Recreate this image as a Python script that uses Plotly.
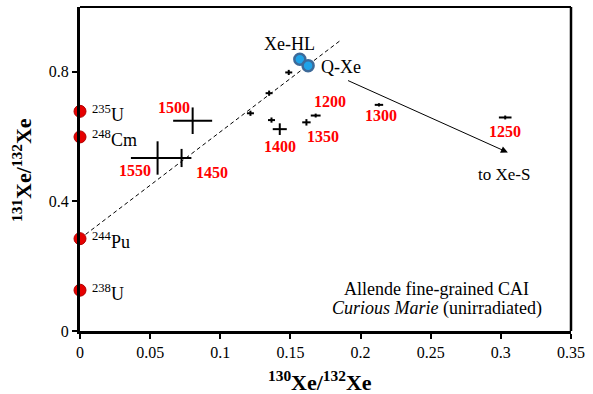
import plotly.graph_objects as go

# ---- data ----
# step-heating extractions (labelled by temperature, deg C)
step_labels = ["1500", "1550", "1450", "1400", "", "1350", "1200", "1300", "1250", "", "", ""]
step_x = [0.0803, 0.0553, 0.0724, 0.1424, 0.1365, 0.1614, 0.1680, 0.2131, 0.3031, 0.1488, 0.1348, 0.1215]
step_y = [0.649, 0.534, 0.534, 0.623, 0.651, 0.644, 0.665, 0.698, 0.659, 0.798, 0.734, 0.672]
step_ex = [0.0139, 0.019, 0.007, 0.005, 0.0025, 0.003, 0.0035, 0.003, 0.0045, 0.0025, 0.0025, 0.0025]
step_ey = [0.041, 0.0515, 0.028, 0.018, 0.008, 0.010, 0.006, 0.005, 0.006, 0.008, 0.008, 0.008]

# label positions for temperature tags
tag_text = ["1500", "1550", "1450", "1400", "1350", "1200", "1300", "1250"]
tag_x = [0.0671, 0.0392, 0.0938, 0.1424, 0.1733, 0.1780, 0.2143, 0.3031]
tag_y = [0.691, 0.496, 0.488, 0.568, 0.599, 0.707, 0.665, 0.616]

# fission end-members on the y axis
fission_names = ["<sup>235</sup>U", "<sup>248</sup>Cm", "<sup>244</sup>Pu", "<sup>238</sup>U"]
fission_x = [0, 0, 0, 0]
fission_y = [0.678, 0.599, 0.285, 0.126]

# trapped components
comp_names = ["Xe-HL", "Q-Xe"]
comp_x = [0.1567, 0.1626]
comp_y = [0.839, 0.819]

# mixing line 244Pu -> Xe-HL
mix_x = [0.0, 0.1863]
mix_y = [0.285, 0.899]

# arrow toward Xe-S
arrow_tail = (0.190, 0.775)
arrow_head = (0.305, 0.551)

x_ticks = [0, 0.05, 0.1, 0.15, 0.2, 0.25, 0.3, 0.35]
x_ticktext = ["0", "0.05", "0.1", "0.15", "0.2", "0.25", "0.3", "0.35"]
y_ticks = [0, 0.4, 0.8]
y_ticktext = ["0", "0.4", "0.8"]

SERIF = "Liberation Serif"

fig = go.Figure()

fig.add_trace(go.Scatter(
    x=mix_x, y=mix_y, mode="lines",
    line=dict(color="black", width=1, dash="4px,3px"),
    hoverinfo="skip", showlegend=False))

fig.add_trace(go.Scatter(
    x=step_x, y=step_y, mode="markers",
    marker=dict(size=1, color="black"),
    error_x=dict(type="data", array=step_ex, color="black", thickness=2, width=0),
    error_y=dict(type="data", array=step_ey, color="black", thickness=2, width=0),
    text=step_labels, showlegend=False))

fig.add_trace(go.Scatter(
    x=comp_x, y=comp_y, mode="markers",
    marker=dict(size=11, color="#1FA3E8", line=dict(color="#3D6A99", width=2.5)),
    text=comp_names, showlegend=False, cliponaxis=False))

fig.add_trace(go.Scatter(
    x=fission_x, y=fission_y, mode="markers",
    marker=dict(size=12, color="#E60000", line=dict(color="#B00000", width=1)),
    text=fission_names, showlegend=False, cliponaxis=False))

ann = []
for t, x, y in zip(tag_text, tag_x, tag_y):
    ann.append(dict(x=x, y=y, text=t, showarrow=False, xref="x", yref="y",
                    xanchor="center", yanchor="middle",
                    font=dict(family=SERIF, size=16, color="#FF0000", weight="bold")))

for t, y in zip(fission_names, fission_y):
    ann.append(dict(x=0, y=y, text=t, showarrow=False, xref="x", yref="y",
                    xanchor="left", yanchor="middle", xshift=10, yshift=-2,
                    font=dict(family=SERIF, size=18, color="black")))

ann.append(dict(x=0.1495, y=0.887, text=comp_names[0], showarrow=False,
                xanchor="center", yanchor="middle",
                font=dict(family=SERIF, size=18, color="black")))
ann.append(dict(x=0.1863, y=0.815, text=comp_names[1], showarrow=False,
                xanchor="center", yanchor="middle",
                font=dict(family=SERIF, size=18, color="black")))

ann.append(dict(x=arrow_head[0], y=arrow_head[1], ax=arrow_tail[0], ay=arrow_tail[1],
                xref="x", yref="y", axref="x", ayref="y", text="", showarrow=True,
                arrowhead=2, arrowsize=1.4, arrowwidth=1, arrowcolor="black"))
ann.append(dict(x=0.302, y=0.482, text="to Xe-S", showarrow=False,
                xanchor="center", yanchor="middle",
                font=dict(family=SERIF, size=17, color="black")))

ann.append(dict(x=0.2542, y=0.131, text="Allende fine-grained CAI", showarrow=False,
                xanchor="center", yanchor="middle",
                font=dict(family=SERIF, size=18, color="black")))
ann.append(dict(x=0.2542, y=0.069, text="<i>Curious Marie</i> (unirradiated)", showarrow=False,
                xanchor="center", yanchor="middle",
                font=dict(family=SERIF, size=18, color="black")))

ann.append(dict(x=0.489, y=-0.105, xref="paper", yref="paper",
                xanchor="center", yanchor="top",
                text="<sup>130</sup>Xe/<sup>132</sup>Xe", showarrow=False,
                font=dict(family=SERIF, size=22, color="black", weight="bold")))
ann.append(dict(x=-0.118, y=0.497, xref="paper", yref="paper", textangle=-90,
                xanchor="center", yanchor="middle",
                text="<sup>131</sup>Xe/<sup>132</sup>Xe", showarrow=False,
                font=dict(family=SERIF, size=22, color="black", weight="bold")))

fig.update_layout(
    width=593, height=394,
    margin=dict(l=80, r=22, t=7, b=63),
    paper_bgcolor="white", plot_bgcolor="white",
    font=dict(family=SERIF, color="black"),
    annotations=ann,
    shapes=[
        dict(type="line", xref="paper", yref="paper", x0=0, x1=1, y0=1, y1=1,
             line=dict(color="black", width=2)),
        dict(type="line", xref="paper", yref="paper", x0=1, x1=1, y0=0, y1=1,
             line=dict(color="black", width=2.5)),
    ],
)
fig.update_xaxes(range=[0, 0.35], tickvals=x_ticks, ticktext=x_ticktext,
                 showgrid=False, zeroline=False, showline=True, linecolor="black",
                 linewidth=3, ticks="outside", ticklen=5, tickwidth=2, tickcolor="black",
                 tickfont=dict(family=SERIF, size=16, color="black"))
fig.update_yaxes(range=[0, 1.0], tickvals=y_ticks, ticktext=y_ticktext,
                 showgrid=False, zeroline=False, showline=True, linecolor="black",
                 linewidth=3, ticks="outside", ticklen=5, tickwidth=2, tickcolor="black",
                 tickfont=dict(family=SERIF, size=16, color="black"))

fig.write_html("out.html")
